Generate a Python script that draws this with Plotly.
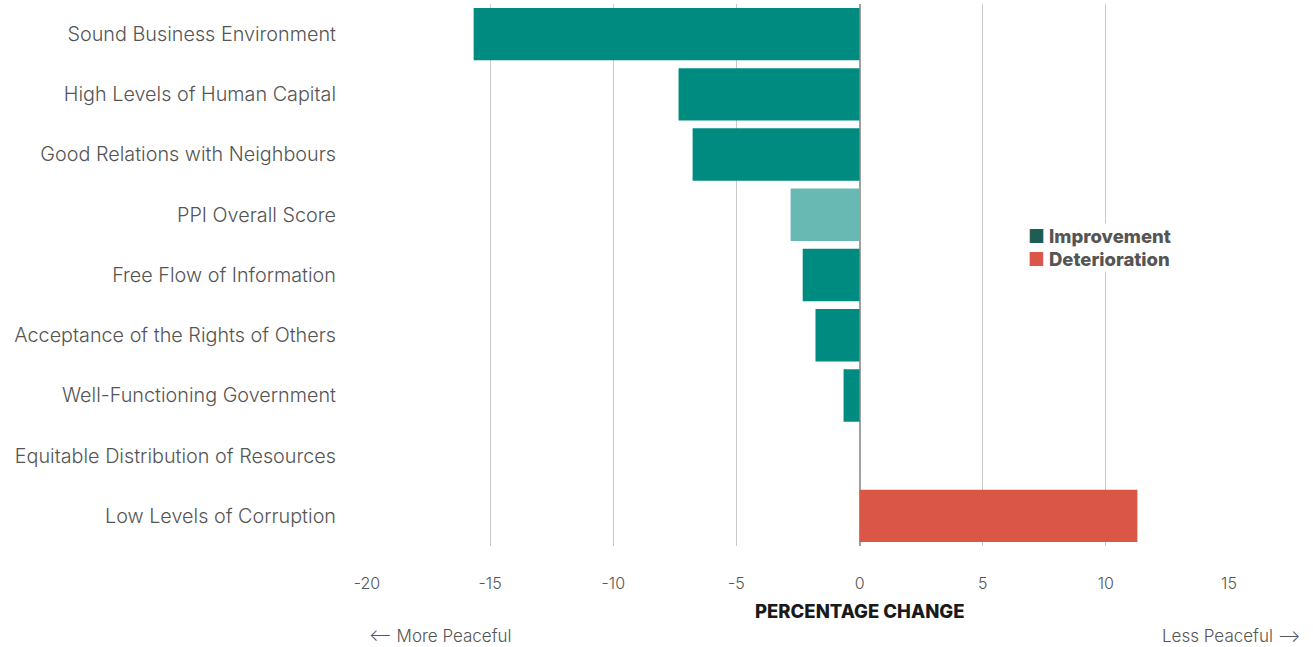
import plotly.graph_objects as go

categories = [
    "Sound Business Environment",
    "High Levels of Human Capital",
    "Good Relations with Neighbours",
    "PPI Overall Score",
    "Free Flow of Information",
    "Acceptance of the Rights of Others",
    "Well-Functioning Government",
    "Equitable Distribution of Resources",
    "Low Levels of Corruption",
]
values = [-15.67, -7.35, -6.78, -2.8, -2.31, -1.79, -0.65, 0.0, 11.28]
bar_colors = ["#008b80", "#008b80", "#008b80", "#68b9b4", "#008b80",
              "#008b80", "#008b80", "#008b80", "#da5748"]
x_ticks = [-20, -15, -10, -5, 0, 5, 10, 15]
legend_names = ["Improvement", "Deterioration"]
legend_colors = ["#1d5e54", "#da5748"]

font_family = "Inter, 'Open Sans', sans-serif"

fig = go.Figure()
fig.add_trace(go.Bar(
    y=categories, x=values, orientation="h",
    marker=dict(color=bar_colors, line=dict(width=0)),
    width=0.87, showlegend=False, hoverinfo="x+y",
))

legend_ann = []
for i, (name, col) in enumerate(zip(legend_names, legend_colors)):
    legend_ann.append(dict(
        text=f"<span style='color:{col}'>■</span> {name}",
        x=0.765, y=0.572 - i * 0.043, xref="paper", yref="paper",
        xanchor="left", yanchor="middle", showarrow=False, bgcolor="white",
        font=dict(size=18.5, color="#555555", family=font_family, weight=800),
    ))

fig.update_layout(
    width=1313, height=647,
    margin=dict(l=367, r=84, t=4, b=101),
    plot_bgcolor="white", paper_bgcolor="white",
    font=dict(family=font_family, color="#555555"),
    showlegend=False,
    bargap=0.13,
    xaxis=dict(
        range=[-20, 15], tickvals=x_ticks, ticktext=[str(t) for t in x_ticks],
        showgrid=True, gridcolor="#c9c9c9", gridwidth=1,
        zeroline=True, zerolinecolor="#a0a0a0", zerolinewidth=1.5,
        showline=False, ticks="",
        tickfont=dict(size=16, color="#555555", family=font_family, weight=300),
        ticklabelstandoff=26, fixedrange=True,
    ),
    yaxis=dict(
        autorange="reversed", showgrid=False, showline=False, ticks="",
        tickfont=dict(size=19.8, color="#555555", family=font_family, weight=300),
        ticklabelstandoff=30, fixedrange=True,
    ),
    annotations=[
        dict(text="PERCENTAGE CHANGE", x=0, y=-0.12, xref="x", yref="paper",
             yanchor="middle", xanchor="center", showarrow=False,
             font=dict(size=18.5, color="#1a1a1a", family=font_family, weight=800)),
        dict(text="⟵ More Peaceful", x=0, y=-0.166, xref="paper", yref="paper",
             xanchor="left", yanchor="middle", showarrow=False,
             font=dict(size=17, color="#555555", family=font_family, weight=300)),
        dict(text="Less Peaceful ⟶", x=1.086, y=-0.166, xref="paper", yref="paper",
             xanchor="right", yanchor="middle", showarrow=False,
             font=dict(size=17, color="#555555", family=font_family, weight=300)),
    ] + legend_ann,
)

fig.write_html("out.html", config={"displayModeBar": False},
               post_script="document.body.style.margin='0';")
